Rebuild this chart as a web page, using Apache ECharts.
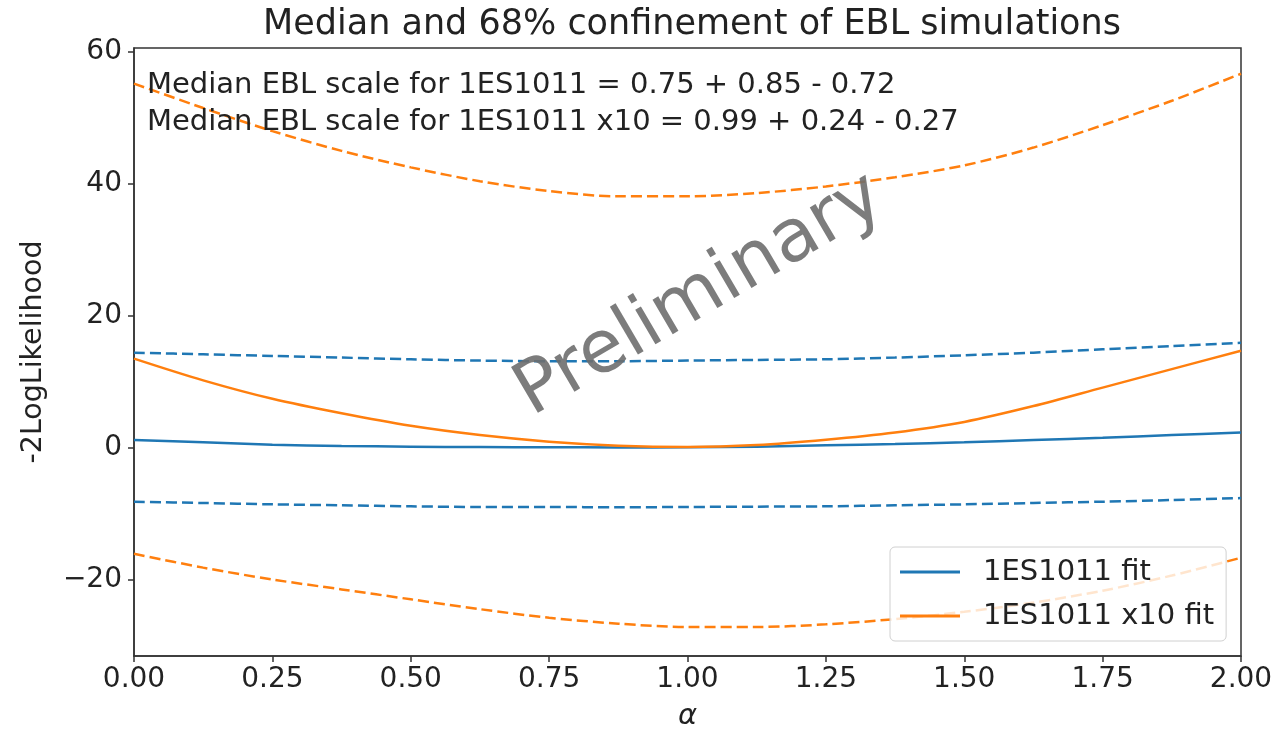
<!DOCTYPE html>
<html>
<head>
<meta charset="utf-8">
<script src="https://cdn.jsdelivr.net/npm/echarts@6/dist/echarts.min.js"></script>
<style>
  html, body { margin: 0; padding: 0; background: #fff; }
  #chart { width: 1284px; height: 732px; }
</style>
</head>
<body>
<div id="chart"></div>
<script>
// alpha (EBL scale) grid
const alphaValues = [0, 0.125, 0.25, 0.375, 0.5, 0.625, 0.75, 0.875, 1.0, 1.125, 1.25, 1.375, 1.5, 1.625, 1.75, 1.875, 2.0]

// 1ES1011: median and 68% band
const blueMedian = [1.15, 0.8, 0.45, 0.25, 0.15, 0.08, 0.05, 0.03, 0.05, 0.15, 0.35, 0.55, 0.8, 1.15, 1.5, 1.9, 2.3]
const blueUpper = [14.4, 14.15, 13.9, 13.65, 13.4, 13.2, 13.1, 13.1, 13.2, 13.3, 13.4, 13.65, 14.0, 14.4, 14.9, 15.4, 15.9]
const blueLower = [-8.2, -8.4, -8.6, -8.75, -8.9, -9.0, -9.0, -9.05, -9.0, -8.95, -8.9, -8.75, -8.6, -8.4, -8.2, -7.95, -7.65]

// 1ES1011 x10: median and 68% band
const orangeMedian = [13.5, 10.2, 7.4, 5.2, 3.3, 1.9, 0.9, 0.3, 0.1, 0.4, 1.2, 2.3, 3.9, 6.3, 9.1, 11.9, 14.7]
const orangeUpper = [55.2, 51.5, 48.0, 45.0, 42.5, 40.4, 38.9, 38.1, 38.1, 38.6, 39.6, 41.0, 42.8, 45.5, 48.9, 52.6, 56.7]
const orangeLower = [-16.1, -18.2, -20.0, -21.5, -23.0, -24.5, -25.8, -26.7, -27.2, -27.2, -26.8, -26.0, -24.9, -23.5, -21.7, -19.4, -16.7]

const yTicks = [-20, 0, 20, 40, 60]
const annotations = [
  'Median EBL scale for 1ES1011 = 0.75 + 0.85 - 0.72',
  'Median EBL scale for 1ES1011 x10 = 0.99 + 0.24 - 0.27'
]

const BLUE = '#1f77b4'
const ORANGE = '#ff7f0e'
const FONT = 'DejaVu Sans'

const pairs = ys => alphaValues.map((a, i) => [a, ys[i]])

const lineSeries = (name, ys, color, dashed) => ({
  name,
  type: 'line',
  data: pairs(ys),
  smooth: 0.3,
  symbol: 'none',
  silent: true,
  lineStyle: {
    width: 2.5,
    color,
    type: dashed ? [11, 5] : 'solid'
  },
  itemStyle: { color }
})

const chart = echarts.init(document.getElementById('chart'))

chart.setOption({
  backgroundColor: '#fff',
  animation: false,
  textStyle: { fontFamily: FONT },
  title: [
    {
      text: 'Median and 68% confinement of EBL simulations',
      left: 687, top: 2, textAlign: 'center',
      textStyle: { fontFamily: FONT, fontSize: 35, fontWeight: 'normal', color: '#222' }
    },
    {
      text: annotations[0],
      left: 142, top: 66,
      textStyle: { fontFamily: FONT, fontSize: 29, fontWeight: 'normal', color: '#222' }
    },
    {
      text: annotations[1],
      left: 142, top: 103,
      textStyle: { fontFamily: FONT, fontSize: 29, fontWeight: 'normal', color: '#222' }
    }
  ],
  grid: {
    left: 134, right: 43, top: 48, bottom: 76,
    show: true, borderColor: '#333', borderWidth: 1.5,
    outerBoundsMode: 'none'
  },
  legend: {
    data: ['1ES1011 fit', '1ES1011 x10 fit'],
    orient: 'vertical',
    left: 890, top: 547,
    padding: [10, 12, 10, 10],
    itemGap: 14,
    itemWidth: 60, itemHeight: 3,
    icon: 'rect',
    backgroundColor: 'rgba(255,255,255,0.8)',
    borderColor: '#d0d0d0', borderWidth: 1, borderRadius: 5,
    textStyle: { fontFamily: FONT, fontSize: 29, color: '#222', padding: [0, 0, 0, 18], lineHeight: 30 }
  },
  xAxis: {
    type: 'value',
    min: 0, max: 2, interval: 0.25,
    name: 'α',
    nameLocation: 'middle', nameGap: 46,
    nameTextStyle: { fontFamily: FONT, fontSize: 29, fontStyle: 'italic', color: '#222' },
    axisLine: { show: true, onZero: false, lineStyle: { color: '#333', width: 1.5 } },
    axisTick: { show: true, length: 6, lineStyle: { color: '#333', width: 1.5 } },
    axisLabel: { fontFamily: FONT, fontSize: 28, color: '#222', margin: 10, formatter: v => v.toFixed(2) },
    splitLine: { show: false }
  },
  yAxis: {
    type: 'value',
    min: -31.6, max: 60.6,
    name: '-2LogLikelihood',
    nameLocation: 'middle', nameGap: 86, nameRotate: 90,
    nameTextStyle: { fontFamily: FONT, fontSize: 28.5, color: '#222' },
    axisLine: { show: true, onZero: false, lineStyle: { color: '#333', width: 1.5 } },
    axisTick: { show: true, length: 6, customValues: yTicks, lineStyle: { color: '#333', width: 1.5 } },
    axisLabel: {
      fontFamily: FONT, fontSize: 28, color: '#222', margin: 12,
      customValues: yTicks,
      formatter: v => (v < 0 ? '\u2212' + Math.abs(v) : String(v))
    },
    splitLine: { show: false }
  },
  graphic: [
    {
      type: 'text',
      x: 700, y: 296,
      rotation: 0.53,
      z: 100,
      style: {
        text: 'Preliminary',
        fontFamily: FONT,
        fontSize: 73,
        fill: 'rgba(110,110,110,0.9)',
        align: 'center',
        verticalAlign: 'middle'
      }
    }
  ],
  series: [
    lineSeries('1ES1011 fit', blueMedian, BLUE, false),
    lineSeries('1ES1011 upper', blueUpper, BLUE, true),
    lineSeries('1ES1011 lower', blueLower, BLUE, true),
    lineSeries('1ES1011 x10 fit', orangeMedian, ORANGE, false),
    lineSeries('1ES1011 x10 upper', orangeUpper, ORANGE, true),
    lineSeries('1ES1011 x10 lower', orangeLower, ORANGE, true)
  ]
})

window.addEventListener('resize', () => chart.resize())
</script>
</body>
</html>
